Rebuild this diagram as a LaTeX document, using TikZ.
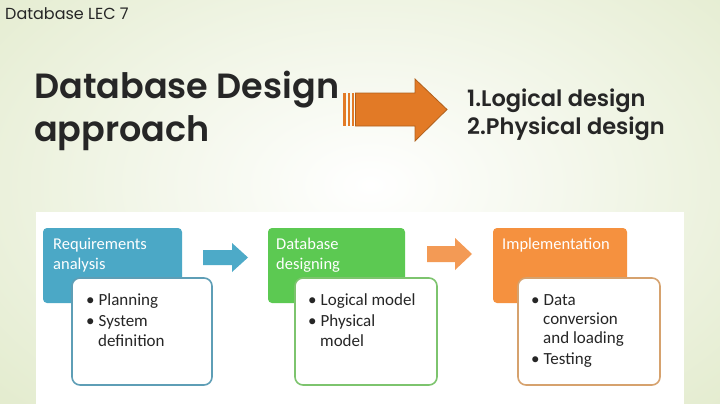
\documentclass[tikz,border=0pt]{standalone}
\usepackage{fontspec}
\setmainfont{Carlito}
\newfontfamily\gothic{Poppins}
\newfontfamily\gothicsb{Poppins}[UprightFont=* SemiBold]
\usetikzlibrary{shapes.arrows}
\definecolor{bggreen}{HTML}{DAE5BE}
\definecolor{bgedge}{HTML}{D6E2B8}
\definecolor{bluebox}{HTML}{4BA8C6}
\definecolor{blueline}{HTML}{5E9EB6}
\definecolor{greenbox}{HTML}{5CC952}
\definecolor{greenline}{HTML}{7DC46E}
\definecolor{orangebox}{HTML}{F5913F}
\definecolor{orangeline}{HTML}{D6A26E}
\definecolor{bigarrow}{HTML}{E27A26}
\definecolor{bigarrowline}{HTML}{B0601C}
\definecolor{darktext}{HTML}{262626}
\definecolor{blueArr}{HTML}{4DAAC8}
\definecolor{orangeArr}{HTML}{F39A55}
\tikzset{
  headbox/.style={rounded corners=4pt, draw=none},
  innerbox/.style={fill=white, line width=1.6pt, rounded corners=8pt},
  headtxt/.style={anchor=base west, inner sep=0pt, text=white, font=\fontsize{16.5}{19}\selectfont},
  itemtxt/.style={anchor=base west, inner sep=0pt, text=darktext, font=\fontsize{17}{20}\selectfont},
}
\begin{document}
\begin{tikzpicture}[x=1pt,y=-1pt]
\useasboundingbox (0,0) rectangle (720,404);
% background
\begin{scope}
\clip (0,0) rectangle (720,404);
\fill[bggreen] (0,0) rectangle (720,404);
\shade[inner color=white, outer color=bggreen] (370,185) ellipse (680 and 430);
\end{scope}
% panel
\fill[white] (36,212) rectangle (684,404);

% header texts
\node[anchor=base west, inner sep=0pt, text=darktext, font=\gothic\fontsize{16}{18}\selectfont] (lec) at (5,20) {Database LEC 7};
\node[anchor=base west, inner sep=0pt, text=darktext, font=\gothicsb\fontsize{35}{40}\selectfont] (t1) at (34,99) {Database Design};
\node[anchor=base west, inner sep=0pt, text=darktext, font=\gothicsb\fontsize{35}{40}\selectfont] (t2) at (34,141) {approach};

% big arrow
\fill[bigarrow] (343,93) rectangle (345.5,126);
\fill[bigarrow] (347.5,93) rectangle (350,126);
\fill[bigarrow] (352,93) rectangle (354,126);
\draw[bigarrowline, fill=bigarrow, line width=0.8pt, line join=miter]
  (355.5,93) -- (415,93) -- (415,79) -- (447,109.5) -- (415,141) -- (415,126) -- (355.5,126) -- cycle;

\node[anchor=base west, inner sep=0pt, text=darktext, font=\gothicsb\fontsize{22.5}{26}\selectfont] (l1) at (467,106) {1.Logical design};
\node[anchor=base west, inner sep=0pt, text=darktext, font=\gothicsb\fontsize{22.5}{26}\selectfont] (l2) at (467,134) {2.Physical design};

% column 1
\fill[bluebox, headbox] (43,228) rectangle (182,303);
\node[headtxt] (h1a) at (53,249) {Requirements};
\node[headtxt] (h1b) at (53,269) {analysis};
\draw[innerbox, draw=blueline] (72,278) rectangle (212,385);
\node[itemtxt] (b1a) at (86,305) {\textbullet\hspace{4pt}Planning};
\node[itemtxt] (b1b) at (86,326) {\textbullet\hspace{4pt}System};
\node[itemtxt] (b1c) at (98,346) {definition};
% arrow 1
\fill[blueArr] (203,250) -- (232,250) -- (232,243) -- (248,257.5) -- (232,272) -- (232,265) -- (203,265) -- cycle;

% column 2
\fill[greenbox, headbox] (268,228) rectangle (405,303);
\node[headtxt] (h2a) at (276,249) {Database};
\node[headtxt] (h2b) at (276,269) {designing};
\draw[innerbox, draw=greenline] (295,278) rectangle (437,385);
\node[itemtxt] (b2a) at (308,305) {\textbullet\hspace{4pt}Logical model};
\node[itemtxt] (b2b) at (308,326) {\textbullet\hspace{4pt}Physical};
\node[itemtxt] (b2c) at (320,346) {model};
% arrow 2
\fill[orangeArr] (427,246) -- (455,246) -- (455,238) -- (472,254) -- (455,270) -- (455,262) -- (427,262) -- cycle;

% column 3
\fill[orangebox, headbox] (493,228) rectangle (627,303);
\node[headtxt] (h3a) at (502,249) {Implementation};
\draw[innerbox, draw=orangeline] (518,278) rectangle (660,385);
\node[itemtxt] (b3a) at (531,305) {\textbullet\hspace{4pt}Data};
\node[itemtxt] (b3b) at (543,324) {conversion};
\node[itemtxt] (b3c) at (543,343) {and loading};
\node[itemtxt] (b3d) at (531,364) {\textbullet\hspace{4pt}Testing};
\end{tikzpicture}
\end{document}
